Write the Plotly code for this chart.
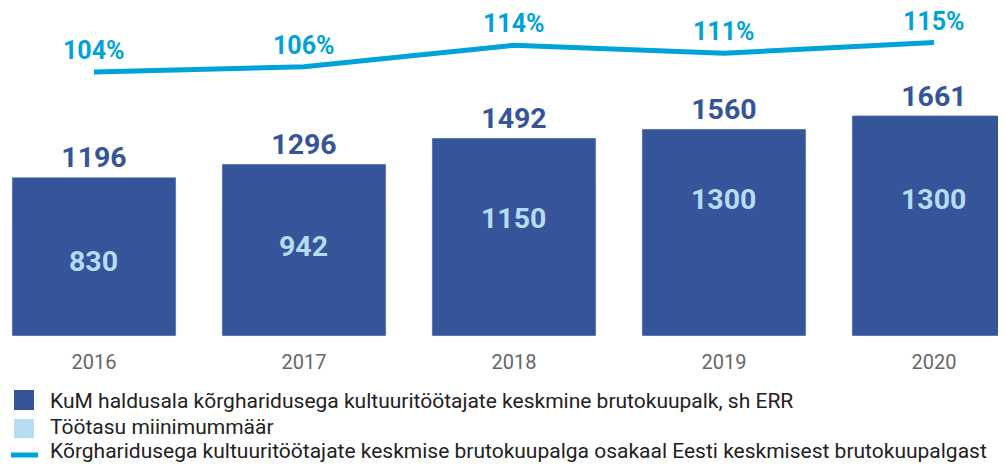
import plotly.graph_objects as go

years = ["2016", "2017", "2018", "2019", "2020"]
kum_salary = [1196, 1296, 1492, 1560, 1661]
min_wage = [830, 942, 1150, 1300, 1300]
ratio_pct = [104, 106, 114, 111, 115]

name_kum = "KuM haldusala kõrgharidusega kultuuritöötajate keskmine brutokuupalk, sh ERR"
name_min = "Töötasu miinimummäär"
name_ratio = "Kõrgharidusega kultuuritöötajate keskmise brutokuupalga osakaal Eesti keskmisest brutokuupalgast"

DARK = "#35549a"
LIGHT = "#b4dcf2"
CYAN = "#00a3d9"
FONT = "Roboto"

W, H = 998, 456
PLOT_H = 328  # plot area height (px)

fig = go.Figure()

# minimum wage bars (drawn first, hidden behind the salary bars)
fig.add_trace(go.Bar(
    x=years, y=min_wage, name=name_min, marker_color=LIGHT, hoverinfo="skip",
))
# salary bars
fig.add_trace(go.Bar(
    x=years, y=kum_salary, name=name_kum, marker_color=DARK,
    text=[str(v) for v in kum_salary], textposition="outside",
    textfont=dict(family=FONT, size=28.5, color=DARK, weight=700),
    cliponaxis=False,
))
# ratio line
fig.add_trace(go.Scatter(
    x=years, y=ratio_pct, name=name_ratio, mode="lines",
    line=dict(color=CYAN, width=5), yaxis="y2", cliponaxis=False,
))

annotations = []
for i, v in enumerate(min_wage):
    annotations.append(dict(
        x=i, y=v, xref="x", yref="y", text=str(v), showarrow=False,
        yshift=-35.5, font=dict(family=FONT, size=28.5, color=LIGHT, weight=700),
    ))
for i, v in enumerate(ratio_pct):
    annotations.append(dict(
        x=i, y=v, xref="x", yref="y2", text=f"{v}%", showarrow=False,
        yshift=21.5, font=dict(family=FONT, size=25, color=CYAN, weight=700),
    ))

# manual legend (pixel positions converted to paper coords)
def px(x):
    return x / W

def py(y):
    return (PLOT_H - y) / PLOT_H

shapes = [
    dict(type="rect", xref="paper", yref="paper",
         x0=px(6), x1=px(26), y0=py(402), y1=py(382),
         fillcolor=DARK, line=dict(width=0)),
    dict(type="rect", xref="paper", yref="paper",
         x0=px(6), x1=px(26), y0=py(430), y1=py(411),
         fillcolor=LIGHT, line=dict(width=0)),
    dict(type="line", xref="paper", yref="paper",
         x0=px(3), x1=px(30), y0=py(447), y1=py(447),
         line=dict(color=CYAN, width=5)),
]
legend_rows = [(name_kum, 393), (name_min, 419), (name_ratio, 443)]
for txt, yy in legend_rows:
    annotations.append(dict(
        x=px(40), y=py(yy), xref="paper", yref="paper", text=txt,
        showarrow=False, xanchor="left", yanchor="middle",
        font=dict(family=FONT, size=21, color="#222222"),
    ))

fig.update_layout(
    width=W, height=H,
    margin=dict(l=0, r=0, t=0, b=H - PLOT_H),
    paper_bgcolor="white", plot_bgcolor="white",
    barmode="overlay", bargap=0.219,
    font=dict(family=FONT, color="#222222"),
    showlegend=False,
    xaxis=dict(
        type="category", range=[-0.4095, 4.343],
        showgrid=False, showline=False, zeroline=False,
        tickfont=dict(family=FONT, size=20, color="#666666"),
        ticklabelstandoff=12,
    ),
    yaxis=dict(range=[0, 2472], visible=False),
    yaxis2=dict(range=[5.5, 127.9], overlaying="y", visible=False),
    annotations=annotations,
    shapes=shapes,
)

fig.write_html("out.html")
